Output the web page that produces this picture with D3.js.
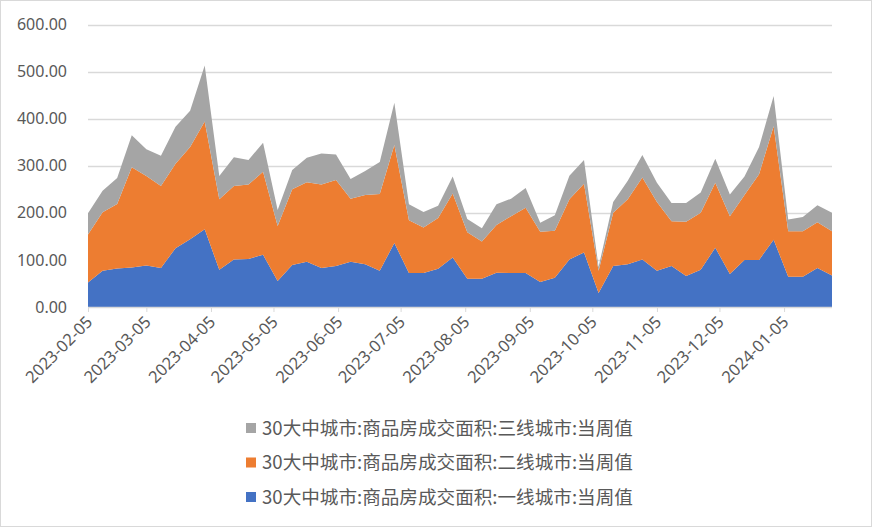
<!DOCTYPE html>
<html>
  <head>
    <meta charset="utf-8">
    <title>30大中城市商品房成交面积</title>
    <script src="https://d3js.org/d3.v7.min.js"></script>
    <style>
      body { margin: 0; background: #fff; }
      svg { display: block; }
      text { fill: #595959; }
    </style>
  </head>
  <body>
    <svg id="chart" width="872" height="527"></svg>

    <script>
      // weekly dates (Sundays) and the three series
      startDay = "2023-02-05";
      weeks = 52;
      tier1 = [52, 77, 82, 84, 88, 83, 125, 144, 165, 79, 101, 102, 111, 55, 89, 96, 83, 87, 96, 91,
        77, 136, 72, 72, 81, 105, 60, 60, 73, 72, 72, 53, 62, 101, 116, 30, 87, 91, 101, 77,
        87, 66, 79, 126, 70, 100, 100, 143, 64, 64, 83, 67];
      tier2 = [102, 124, 137, 213, 190, 174, 179, 196, 229, 150, 156, 158, 176, 117, 161, 169, 177, 183, 134, 147,
        163, 208, 112, 97, 108, 136, 99, 79, 101, 121, 139, 107, 100, 128, 146, 47, 113, 138, 174, 146,
        95, 115, 121, 138, 123, 138, 182, 241, 97, 97, 97, 94];
      tier3 = [45, 46, 55, 68, 57, 64, 79, 77, 119, 49, 61, 52, 62, 34, 41, 52, 66, 54, 42, 51,
        68, 90, 34, 33, 26, 36, 28, 28, 44, 37, 42, 19, 33, 50, 50, 8, 23, 39, 48, 41,
        39, 40, 43, 51, 46, 39, 58, 64, 25, 30, 36, 39];
      seriesNames = [
        "30大中城市:商品房成交面积:一线城市:当周值",
        "30大中城市:商品房成交面积:二线城市:当周值",
        "30大中城市:商品房成交面积:三线城市:当周值"
      ];
      seriesColors = ["#4472c4", "#ed7d31", "#a5a5a5"];
      tickLabels = ["2023-02-05", "2023-03-05", "2023-04-05", "2023-05-05", "2023-06-05", "2023-07-05",
        "2023-08-05", "2023-09-05", "2023-10-05", "2023-11-05", "2023-12-05", "2024-01-05"];
      yTicks = [0, 100, 200, 300, 400, 500, 600];

      parseDate = d3.timeParse("%Y-%m-%d");
      first = parseDate(startDay);
      rows = d3.range(weeks).map(function(i) {
        return {
          date: d3.timeDay.offset(first, i * 7),
          s0: tier1[i],
          s1: tier2[i],
          s2: tier3[i]
        };
      });

      svg = d3.select("#chart");

      // chart frame
      svg.append("rect")
        .attr("x", 0.5).attr("y", 0.5)
        .attr("width", 871).attr("height", 526)
        .attr("fill", "#fff")
        .attr("stroke", "#d9d9d9");

      x = d3.scaleTime()
        .domain([first, rows[weeks - 1].date])
        .range([88, 832]);
      y = d3.scaleLinear()
        .domain([0, 600])
        .range([307, 24.5]);

      // gridlines
      svg.append("g")
        .selectAll("line")
        .data(yTicks.slice(1))
        .enter().append("line")
          .attr("x1", 88).attr("x2", 832)
          .attr("y1", function(d) { return Math.round(y(d)) + 0.5; })
          .attr("y2", function(d) { return Math.round(y(d)) + 0.5; })
          .attr("stroke", "#d9d9d9")
          .attr("stroke-width", 1.3);

      // stacked areas
      stack = d3.stack().keys(["s0", "s1", "s2"]);
      layers = stack(rows);
      area = d3.area()
        .x(function(d) { return x(d.data.date); })
        .y0(function(d) { return y(d[0]); })
        .y1(function(d) { return y(d[1]); });
      svg.append("g")
        .selectAll("path")
        .data(layers)
        .enter().append("path")
          .attr("d", area)
          .attr("fill", function(d, i) { return seriesColors[i]; });

      // y axis labels
      svg.append("g")
        .selectAll("text")
        .data(yTicks)
        .enter().append("text")
          .attr("x", 67)
          .attr("y", function(d) { return y(d); })
          .attr("dy", "0.35em")
          .attr("text-anchor", "end")
          .style("font", "16px 'Noto Sans', sans-serif")
          .text(function(d) { return d3.format(".2f")(d); });

      // x axis
      tickDates = tickLabels.map(parseDate);
      xAxis = svg.append("g")
        .attr("transform", "translate(0,307)")
        .call(d3.axisBottom(x)
          .tickValues(tickDates)
          .tickSize(5)
          .tickFormat(d3.timeFormat("%Y-%m-%d")));
      xAxis.select(".domain")
        .attr("stroke", "#d9d9d9")
        .attr("stroke-width", 1.3)
        .attr("d", "M88,0.5H832");
      xAxis.selectAll(".tick line").attr("stroke", "#d9d9d9");
      xAxis.selectAll(".tick text")
        .attr("fill", "#595959")
        .style("font", "16.5px 'Noto Sans', sans-serif")
        .attr("text-anchor", "end")
        .attr("dy", null)
        .attr("y", 0)
        .attr("transform", "translate(5,16) rotate(-45)");

      // legend, top row is the last series
      legend = svg.append("g")
        .selectAll("g")
        .data([2, 1, 0])
        .enter().append("g")
          .attr("transform", function(d, i) { return "translate(246," + (428 + i * 34.5) + ")"; });
      legend.append("rect")
        .attr("x", 0).attr("y", -5)
        .attr("width", 10).attr("height", 10)
        .attr("fill", function(d) { return seriesColors[d]; });
      legend.append("text")
        .attr("x", 16)
        .attr("dy", "0.36em")
        .style("font", "18.6px 'Noto Sans CJK SC', sans-serif")
        .text(function(d) { return seriesNames[d]; });
    </script>
  </body>
</html>
